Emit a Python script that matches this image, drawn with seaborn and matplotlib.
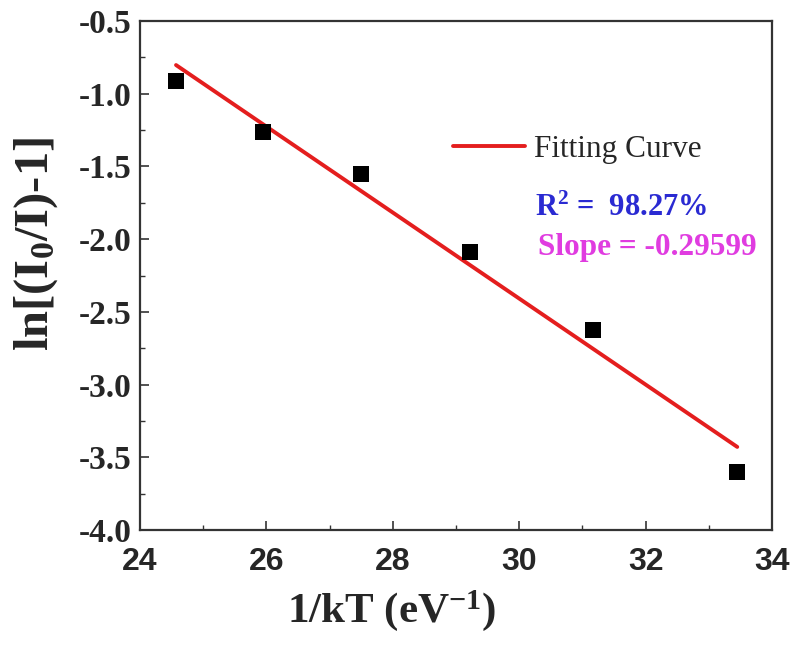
import numpy as np
import pandas as pd
import matplotlib
matplotlib.use("Agg")
import matplotlib.pyplot as plt
from matplotlib.ticker import MultipleLocator
import seaborn as sns

# ---- data ----
inv_kT = [24.57, 25.95, 27.50, 29.22, 31.17, 33.45]
ln_ratio = [-0.913, -1.263, -1.552, -2.089, -2.625, -3.602]
x_ticks = [24, 26, 28, 30, 32, 34]
y_ticks = [-4.0, -3.5, -3.0, -2.5, -2.0, -1.5, -1.0, -0.5]
legend_label = "Fitting Curve"
r2_text = r"R$^{\mathbf{2}}$ =  98.27%"
slope_text = "Slope = -0.29599"
x_label = r"1/kT (eV$^{\mathbf{-1}}$)"
y_label = r"ln[(I$_{\mathbf{0}}$/I)-1]"

df = pd.DataFrame({"x": inv_kT, "y": ln_ratio})

sns.set_style("ticks")
plt.rcParams.update({
    "font.family": ["Liberation Serif", "DejaVu Serif"],
    "mathtext.fontset": "custom",
    "mathtext.rm": "Liberation Serif:bold",
    "mathtext.bf": "Liberation Serif:bold",
    "mathtext.it": "Liberation Serif:bold",
    "mathtext.default": "bf",
})

fig = plt.figure(figsize=(7.95, 6.5), dpi=100)
ax = fig.add_axes([140 / 795, 1 - 530 / 650, 632 / 795, 509 / 650])

sns.regplot(data=df, x="x", y="y", scatter=False, ci=None, truncate=True,
            color="#e41e1e", line_kws=dict(lw=2.8, label=legend_label), ax=ax)
sns.scatterplot(data=df, x="x", y="y", marker="s", s=120, color="black",
                edgecolor="black", linewidth=0, ax=ax, zorder=3, legend=False)

ax.set_xlim(24, 34)
ax.set_ylim(-4.0, -0.5)
ax.set_xticks(x_ticks)
ax.set_xticklabels([str(t) for t in x_ticks], fontfamily="Liberation Sans",
                   fontweight="bold", fontsize=23)
ax.set_yticks(y_ticks)
ax.set_yticklabels([f"{t:.1f}" for t in y_ticks], fontfamily="Liberation Serif",
                   fontweight="bold", fontsize=24)
ax.xaxis.set_minor_locator(MultipleLocator(1))
ax.yaxis.set_minor_locator(MultipleLocator(0.25))
ax.tick_params(which="major", direction="in", length=6.5, width=1.2,
               color="#333333", top=False, right=False)
ax.tick_params(which="minor", direction="in", length=3.5, width=1.0,
               color="#333333", top=False, right=False)
ax.tick_params(axis="x", which="major", pad=12)
ax.tick_params(axis="y", which="major", pad=6)

for sp in ax.spines.values():
    sp.set_visible(True)
    sp.set_color("#333333")
    sp.set_linewidth(1.6)

ax.set_xlabel(x_label, fontsize=31, fontweight="bold")
ax.set_ylabel(y_label, fontsize=35, fontweight="bold")
ax.xaxis.set_label_coords((392 - 140) / 632, (530 - 588) / 509)
ax.yaxis.set_label_coords((60 - 140) / 632, (530 - 244) / 509)

line = ax.lines[0]
ax.legend(handles=[line], labels=[legend_label], loc="center left",
          bbox_to_anchor=((453 - 140) / 632, (530 - 149) / 509),
          frameon=False, borderpad=0, borderaxespad=0, handlelength=2.3,
          handletextpad=0.3, prop=dict(family="Liberation Serif", size=22.5))

ax.text((535 - 140) / 632, (530 - 208) / 509, r2_text, transform=ax.transAxes,
        color="#2a2ad2", fontsize=22, fontweight="bold", va="center", ha="left")
ax.text((538 - 140) / 632, (530 - 248) / 509, slope_text, transform=ax.transAxes,
        color="#e03ce0", fontsize=22.5, fontweight="bold", va="center", ha="left")

fig.savefig("out.png", dpi=100)
